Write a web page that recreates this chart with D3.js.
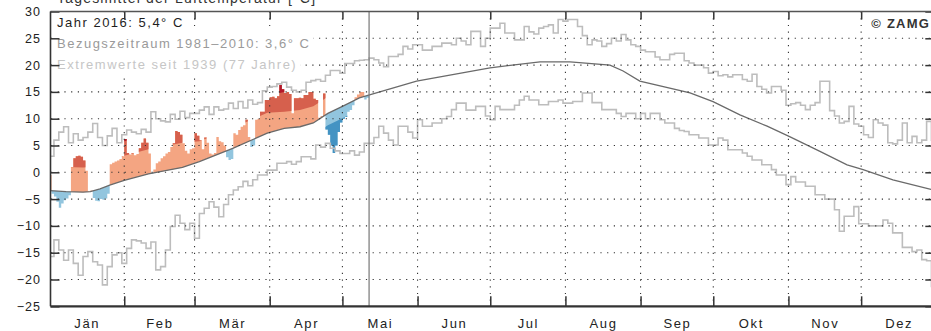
<!DOCTYPE html>
<html><head><meta charset="utf-8">
<script src="https://cdn.jsdelivr.net/npm/d3@7"></script>
<style>
html,body{margin:0;padding:0;background:#fff;}
svg{display:block;font-family:"Liberation Sans",Arial,sans-serif;}
</style></head><body>
<svg id="c" width="931" height="331"></svg>
<script>
// ---------- data ----------
const monthLabels = ["Jän","Feb","Mär","Apr","Mai","Jun","Jul","Aug","Sep","Okt","Nov","Dez"];
const monthStarts = [0,31,60,91,121,152,182,213,244,274,305,335,366];
const yTicks = [-25,-20,-15,-10,-5,0,5,10,15,20,25,30];

// climate mean 1981-2010 (day of year, °C)
const climDays = [0,7,14,17,21,25,31,41,55,62,76,90,97,103.5,109,115,121,128,135,151.6,181.9,202.5,214.9,231.4,236.8,243.7,264.4,273.9,285,296.2,305.7,318,329.2,335.8,348.1,363.8,366];
const climVals = [-3.4,-3.6,-3.7,-3.6,-3.1,-2.4,-1.5,-0.3,0.9,2.0,4.5,7.3,8.2,8.5,9.2,11.0,12.3,13.9,14.8,17.0,19.5,20.6,20.6,20.0,18.9,17.0,14.8,13.2,10.7,8.6,6.6,3.9,1.4,0.5,-1.4,-3.2,-3.4];

// daily mean 2016 from 1 Jan
const temp2016 = [-0.5,-4.0,-4.5,-5.5,-6.6,-5.8,-5.2,-4.9,-4.3,1.0,
2.6,3.0,3.1,2.9,2.2,0.3,-3.5,-3.4,-4.8,-5.3,
-5.4,-5.0,-5.1,-4.9,-4.0,1.5,1.8,2.0,2.2,2.5,
3.0,6.2,3.6,3.3,3.6,3.2,3.4,4.5,5.5,6.3,
5.5,3.5,-0.3,0.5,1.7,2.0,2.6,3.0,3.5,3.8,
4.7,5.4,7.7,7.5,7.0,5.4,4.0,3.5,4.3,4.5,
7.3,6.8,6.0,4.3,6.5,5.5,3.5,3.3,3.6,6.6,
5.8,5.6,5.0,2.8,2.3,2.5,7.3,7.0,7.9,8.5,
8.8,9.8,6.6,4.7,5.0,9.8,10.0,11.3,11.3,13.5,
13.5,14.0,14.1,13.8,14.2,16.3,15.5,14.8,15.0,14.6,
11.0,13.8,13.8,13.9,13.8,14.4,14.4,15.0,15.0,13.7,
13.5,10.2,10.5,14.7,8.0,7.0,5.0,3.6,5.0,7.5,
9.3,10.0,10.3,11.3,11.6,12.5,14.0,14.5,15.0,15.0,
13.6,13.9];

// extremes since 1939, two-day steps from 1 Jan
const extremeMax = [3,6,7.5,8.5,5.5,7.2,6.0,6.5,7.5,9.1,
6.5,5.0,6.8,8.2,5.5,7.0,7.9,7.5,7.2,8.0,
7.5,11.3,10.0,9.6,9.4,10.8,9.9,11.4,10.2,11.0,
11.0,11.6,12.2,10.8,12.2,11.6,11.8,12.9,11.9,13.2,
12.0,13.5,12.7,13.0,15.2,15.9,16.0,16.5,16.8,15.9,
15.3,15.0,15.3,16.8,17.1,17.3,17.0,18.1,19.0,19.0,
18.5,20.3,20.3,20.8,20.9,21.0,21.3,21.0,20.4,19.7,
21.6,21.6,22.0,23.5,23.0,23.8,23.8,22.8,22.8,23.5,
23.5,24.1,24.1,23.8,25.0,24.5,23.8,26.3,26.3,23.5,
25.0,26.9,26.9,27.8,26.0,26.0,24.7,24.7,27.2,26.2,
25.8,26.9,27.2,27.5,26.0,28.5,28.2,28.5,28.5,27.2,
25.5,23.8,24.7,24.5,23.5,24.0,25.0,24.5,25.7,24.7,
23.8,23.5,22.8,22.5,22.5,21.5,21.0,21.0,22.0,22.2,
22.2,20.8,20.4,20.0,20.0,19.5,18.5,18.8,18.0,18.2,
17.8,18.2,18.2,17.3,17.0,18.3,16.0,15.5,14.8,16.0,
16.0,15.3,12.5,12.8,13.0,12.5,11.7,12.5,13.0,17.0,
17.0,11.5,10.5,9.2,9.5,12.3,9.0,8.6,7.0,6.5,
9.8,9.2,8.8,5.5,5.3,6.0,9.2,5.5,6.7,5.5,
6.0,9.5,6.0];
const extremeMin = [-15.7,-12.6,-14.5,-16.4,-14.5,-17.0,-19.2,-15.7,-14.8,-16.7,
-17.3,-21.0,-17.6,-15.4,-15.0,-17.0,-14.2,-12.6,-12.8,-13.2,
-14.2,-13.0,-18.2,-17.6,-14.5,-10.1,-8.0,-9.5,-10.7,-9.5,
-12.3,-7.7,-6.7,-5.5,-6.5,-8.3,-6.0,-4.2,-3.3,-2.7,
-1.7,-2.5,-1.4,-0.5,-0.5,0.4,0.4,1.7,1.7,2.0,
1.5,2.0,2.9,2.9,2.5,5.1,4.7,5.4,4.5,4.0,
3.5,3.5,4.0,3.2,3.8,5.4,5.4,6.5,8.6,7.3,
6.0,5.1,8.6,8.6,7.5,6.4,9.8,8.6,8.6,9.2,
9.2,10.0,10.4,11.7,12.9,12.9,11.6,11.6,12.3,12.3,
10.5,9.8,12.3,11.7,11.7,11.7,12.5,13.5,14.2,13.5,
13.5,12.6,12.6,13.2,13.2,13.5,12.9,12.9,13.2,13.2,
14.8,14.8,13.0,13.0,11.7,11.7,11.7,11.0,10.4,11.0,
11.0,10.0,11.0,10.0,11.0,11.0,9.8,9.2,9.2,8.2,
7.8,7.6,7.0,7.0,6.4,6.4,5.1,5.1,6.4,6.0,
4.2,4.2,4.2,3.6,3.0,2.3,2.3,1.4,1.4,0.5,
-0.5,-0.5,-2.3,-0.8,-1.8,-1.8,-2.6,-2.6,-4.2,-4.2,
-5.0,-5.0,-7.0,-11.0,-8.2,-8.2,-6.4,-9.6,-9.6,-10.0,
-10.0,-10.0,-8.9,-9.5,-11.3,-11.3,-14.0,-14.0,-14.8,-14.5,
-16.3,-16.5,-21.3];

// anomaly class limits (°C from the mean) for Jan..Mai
const warmClass1 = [4.6,4.6,3.8,3.1,3.0];
const warmClass2 = [7.5,7.3,7.0,6.8,6.0];
const coldClass1 = [-4.0,-4.0,-3.0,-2.2,-2.2];

const titleText = "Tagesmittel der Lufttemperatur [°C]";
const legendLines = ["Jahr 2016: 5,4° C","Bezugszeitraum 1981–2010: 3,6° C","Extremwerte seit 1939 (77 Jahre)"];
const creditText = "© ZAMG";

// ---------- drawing ----------
const svg = d3.select("#c");
const x = d3.scaleLinear().domain([0,366]).range([49.1,936.3]);
const y = d3.scaleLinear().domain([-25,30]).range([306.3,11.5]);
const X0 = x(0), X1 = x(366), YT = y(30), YB = y(-25);

const defs = svg.append("defs");
defs.append("clipPath").attr("id","plot").append("rect")
  .attr("x",50.5).attr("y",YT).attr("width",X1-50.5).attr("height",YB-YT);

const monthOf = d => Math.max(0, d3.bisectRight(monthStarts, d) - 1);
const climPts = climDays.map((d,i)=>[d, climVals[i]]);
function clip(id, cls, toTop){
  const pts = climPts.map(([d,v]) => [x(d), y(v + (cls ? cls[Math.min(monthOf(d), cls.length-1)] : 0))]);
  const edge = toTop ? YT - 40 : YB + 40;
  const p = d3.path();
  p.moveTo(X0-10, edge);
  p.lineTo(X0-10, pts[0][1]);
  pts.forEach(q => p.lineTo(q[0], q[1]));
  p.lineTo(X1+10, pts[pts.length-1][1]);
  p.lineTo(X1+10, edge);
  p.closePath();
  defs.append("clipPath").attr("id", id).append("path").attr("d", p.toString());
}
clip("aboveClim", null, true);
clip("aboveW1", warmClass1, true);
clip("aboveW2", warmClass2, true);
clip("belowClim", null, false);
clip("belowC1", coldClass1, false);

const plot = svg.append("g").attr("clip-path","url(#plot)");

// 2016 anomaly bars
const pts2016 = temp2016.map((v,i)=>[i,v]);
pts2016.push([temp2016.length, temp2016[temp2016.length-1]]);
const areaUp = d3.area().x(d=>x(d[0])).y0(YB).y1(d=>y(d[1])).curve(d3.curveStepAfter);
const areaDown = d3.area().x(d=>x(d[0])).y0(YT).y1(d=>y(d[1])).curve(d3.curveStepAfter);
const layers = [
  [areaUp, "aboveClim", "#f4a582"],
  [areaUp, "aboveW1", "#d6604d"],
  [areaUp, "aboveW2", "#b2182b"],
  [areaDown, "belowClim", "#92c5de"],
  [areaDown, "belowC1", "#4393c3"]
];
layers.forEach(([gen, cid, col]) => {
  plot.append("g").attr("clip-path", `url(#${cid})`)
    .append("path").attr("d", gen(pts2016)).attr("fill", col);
});

// grid (dotted)
const grid = svg.append("g").attr("stroke","#333").attr("stroke-width",1.1).attr("stroke-dasharray","1.2,5.5");
grid.selectAll("line.h").data(yTicks.filter(t => t > -25 && t < 30)).join("line")
  .attr("x1",51).attr("x2",X1).attr("y1",d=>y(d)).attr("y2",d=>y(d));
grid.selectAll("line.v").data(monthStarts.slice(1,12)).join("line")
  .attr("x1",d=>x(d)).attr("x2",d=>x(d)).attr("y1",YT).attr("y2",YB);

// extremes
const step = d3.line().x(d=>x(d[0])).y(d=>y(d[1])).curve(d3.curveStepAfter);
[extremeMax, extremeMin].forEach(arr => {
  const p = arr.map((v,i)=>[i*2, v]);
  p.push([366, arr[arr.length-1]]);
  plot.append("path").attr("d", step(p)).attr("fill","none")
    .attr("stroke","#bdbdbd").attr("stroke-width",1.6);
});

// climate mean line
plot.append("path").attr("d", d3.line().x(d=>x(d[0])).y(d=>y(d[1]))(climPts))
  .attr("fill","none").attr("stroke","#6a6a6a").attr("stroke-width",1.3);

// current day line
svg.append("line").attr("x1",x(temp2016.length)).attr("x2",x(temp2016.length))
  .attr("y1",YT).attr("y2",YB).attr("stroke","#777").attr("stroke-width",1.2);

// legend
const legY = [27, 47.5, 68.5];
const legCol = ["#1e1e1e","#9a9a9a","#c6c6c6"];
const boxTop = [13, 31, 53], boxBot = [31, 53, 75];
legendLines.forEach((t,i) => {
  const r = svg.append("rect").attr("fill","#fff");
  const tx = svg.append("text").attr("x",57).attr("y",legY[i]).text(t)
    .attr("font-size",13).attr("letter-spacing",1.5).attr("fill",legCol[i]);
  const bb = tx.node().getBBox();
  r.attr("x",52).attr("y",boxTop[i]).attr("width",bb.x+bb.width-52+3).attr("height",boxBot[i]-boxTop[i]);
});
svg.append("text").attr("x",930).attr("y",27.5).attr("text-anchor","end").text(creditText)
  .attr("font-size",13).attr("letter-spacing",1.2).attr("font-weight","bold").attr("fill","#333");

// title (cut at top like the original)
svg.append("text").attr("x",57).attr("y",3).text(titleText)
  .attr("font-size",14).attr("letter-spacing",1.2).attr("fill","#333");

// axes
function styleAxis(g){
  g.selectAll(".tick line").attr("stroke","#333").attr("stroke-width",1.5);
  g.selectAll("text").attr("fill","#222").attr("font-size",12.5).attr("letter-spacing",1)
    .attr("font-family","'Liberation Sans',Arial,sans-serif");
}
const gl = svg.append("g").attr("transform",`translate(50.5,0)`)
  .call(d3.axisLeft(y).tickValues(yTicks).tickSize(-9).tickPadding(9.5).tickFormat(d3.format("d")));
gl.select(".domain").remove();
styleAxis(gl);
const gr = svg.append("g").attr("transform",`translate(${X1},0)`)
  .call(d3.axisRight(y).tickValues(yTicks).tickSize(-11).tickFormat(""));
gr.select(".domain").remove();
styleAxis(gr);
const gt = svg.append("g").attr("transform",`translate(0,${YT})`)
  .call(d3.axisTop(x).tickValues(monthStarts.slice(1,12)).tickSize(-8).tickFormat(""));
gt.select(".domain").remove();
styleAxis(gt);
const gb = svg.append("g").attr("transform",`translate(0,${YB})`)
  .call(d3.axisBottom(x).tickValues(monthStarts.slice(1,12)).tickSize(-10).tickFormat(""));
gb.select(".domain").remove();
styleAxis(gb);
const mids = monthLabels.map((m,i)=>(monthStarts[i]+monthStarts[i+1])/2);
const gm = svg.append("g").attr("transform",`translate(0,${YB})`)
  .call(d3.axisBottom(x).tickValues(mids).tickSize(0).tickPadding(12.5).tickFormat((d,i)=>monthLabels[i]));
gm.select(".domain").remove();
styleAxis(gm);
gm.selectAll("text").attr("font-size",13).attr("letter-spacing",1.6);

// frame
svg.append("line").attr("x1",50.5).attr("x2",X1).attr("y1",YT).attr("y2",YT).attr("stroke","#555").attr("stroke-width",1.3);
svg.append("line").attr("x1",50.5).attr("x2",50.5).attr("y1",YT).attr("y2",YB).attr("stroke","#333").attr("stroke-width",1.6);
svg.append("line").attr("x1",50.5).attr("x2",X1).attr("y1",YB).attr("y2",YB).attr("stroke","#333").attr("stroke-width",2.2);
svg.append("line").attr("x1",X1).attr("x2",X1).attr("y1",YT).attr("y2",YB).attr("stroke","#555").attr("stroke-width",1.3);
</script>
</body></html>
